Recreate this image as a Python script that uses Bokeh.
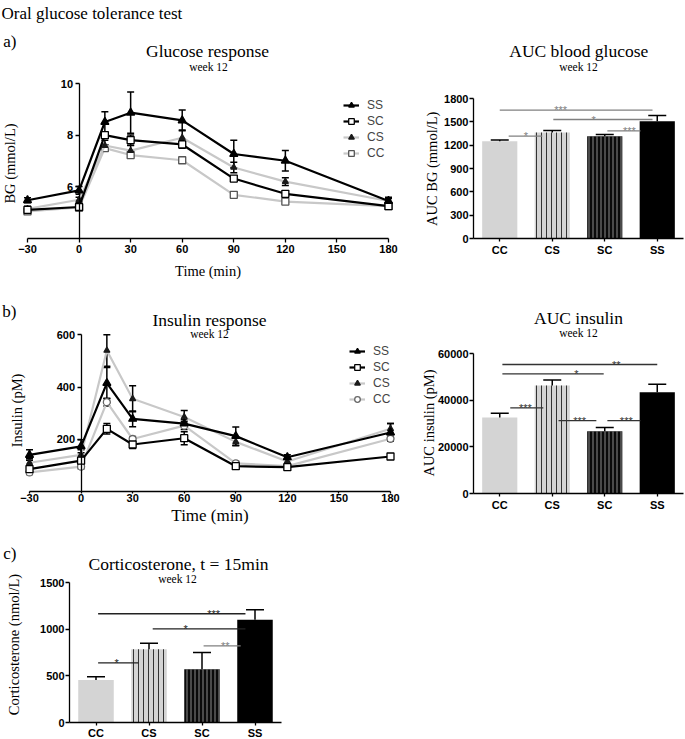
import math
from bokeh.plotting import figure
from bokeh.models import (Range1d, FixedTicker, Label, Whisker, TeeHead,
                          ColumnDataSource, Legend, LegendItem)
from bokeh.layouts import column, row
from bokeh.embed import file_html
from bokeh.resources import INLINE
from bokeh.core.properties import value

SERIF = "Liberation Serif"
SANS = "Liberation Sans"

# ---------------- data ----------------
time_min = [-30, 0, 15, 30, 60, 90, 120, 180]
time_ticks = [-30, 0, 30, 60, 90, 120, 150, 180]
line_groups = ["SS", "SC", "CS", "CC"]

glu_SS = [5.48, 5.86, 8.51, 8.87, 8.57, 7.27, 7.01, 5.45]
glu_SS_err = [0.10, 0.15, 0.40, 0.80, 0.40, 0.53, 0.40, 0.15]
glu_SC = [5.11, 5.22, 8.00, 7.81, 7.64, 6.32, 5.73, 5.25]
glu_SC_err = [0.08, 0.08, 0.10, 0.20, 0.15, 0.10, 0.10, 0.10]
glu_CS = [5.15, 5.50, 7.60, 7.40, 7.90, 6.75, 6.20, 5.45]
glu_CS_err = [0.10, 0.10, 0.20, 0.20, 0.30, 0.20, 0.15, 0.10]
glu_CC = [5.05, 5.20, 7.50, 7.23, 7.03, 5.69, 5.43, 5.25]
glu_CC_err = [0.08, 0.08, 0.08, 0.08, 0.08, 0.08, 0.08, 0.08]

ins_SS = [140, 173, 415, 278, 260, 212, 131, 226]
ins_SS_err = [20, 25, 60, 30, 15, 35, 10, 34]
ins_SC = [86, 118, 240, 180, 204, 97, 93, 134]
ins_SC_err = [10, 10, 20, 15, 25, 8, 8, 10]
ins_CS = [110, 140, 540, 355, 285, 190, 115, 240]
ins_CS_err = [15, 20, 60, 50, 25, 15, 10, 20]
ins_CC = [73, 95, 342, 201, 252, 108, 97, 202]
ins_CC_err = [8, 8, 15, 10, 15, 8, 8, 10]

bar_groups = ["CC", "CS", "SC", "SS"]
auc_bg = [1251, 1363, 1316, 1509]
auc_bg_err = [15, 26, 21, 72]
auc_ins = [32600, 46400, 26700, 43500]
auc_ins_err = [1900, 2400, 1700, 3450]
cort = [455, 786, 571, 1100]
cort_err = [36, 64, 179, 107]

# significance brackets: (x start, x end, height, star x, stars)
sig_bg = [(0.50, 3.41, 1650, 1.66, "***"), (1.52, 3.41, 1530, 2.29, "*"),
          (2.55, 3.18, 1383, 2.97, "***"), (0.67, 1.31, 1315, 1.00, "*")]
sig_ins = [(0.55, 3.50, 55400, 2.72, "**"), (0.55, 2.48, 51400, 1.96, "*"),
           (0.70, 1.33, 36760, 0.99, "***"), (1.62, 2.34, 31300, 2.02, "***"),
           (2.55, 3.18, 31300, 2.91, "***")]
sig_cort = [(0.54, 3.32, 1165, 2.72, "***"), (1.57, 3.32, 1004, 2.19, "*"),
            (2.53, 3.23, 822, 2.94, "**"), (0.54, 1.30, 639, 0.89, "*")]

# ---------------- styles ----------------
glu_styles = {
    "SS": dict(line="black", marker="triangle", size=8, fill="black", edge="black"),
    "SC": dict(line="black", marker="square", size=7, fill="white", edge="black"),
    "CS": dict(line="#c8c8c8", marker="triangle", size=6, fill="#1a1a1a", edge="#1a1a1a"),
    "CC": dict(line="#c8c8c8", marker="square", size=7, fill="white", edge="#555555"),
}
ins_styles = dict(glu_styles)
ins_styles["CC"] = dict(line="#c8c8c8", marker="circle", size=7, fill="white", edge="#666666")

bar_styles = {
    "CC": dict(fill_color="#d4d4d4"),
    "CS": dict(fill_color="#d4d4d4", hatch_pattern="vertical_line", hatch_color="#333333",
               hatch_scale=5, hatch_weight=1),
    "SC": dict(fill_color="#0a0a0a", hatch_pattern="vertical_line", hatch_color="#8a8a8a",
               hatch_scale=4, hatch_weight=1),
    "SS": dict(fill_color="black"),
}

# ---------------- geometry (page pixels) ----------------
# each panel: canvas box and two calibration points per axis (frame fills the canvas)
geoA = dict(left=0, top=0, width=418, height=290, x=(-30, 27, 180, 388), y=(4, 238, 10, 83))
geoB = dict(left=418, top=0, width=267, height=290, x=(0, 473, 4, 683), y=(0, 238, 1800, 98))
geoC = dict(left=0, top=290, width=418, height=240, x=(-30, 29, 180, 390), y=(0, 491, 600, 334.3))
geoD = dict(left=418, top=290, width=267, height=240, x=(0, 473, 4, 683), y=(0, 493, 60000, 353.3))
geoE = dict(left=0, top=530, width=300, height=209, x=(0, 69, 4, 281), y=(0, 722, 1500, 582))


def to_data(geo, px, py):
    v0, p0, v1, p1 = geo["x"]
    w0, q0, w1, q1 = geo["y"]
    return (v0 + (px - p0) * (v1 - v0) / (p1 - p0), w0 + (py - q0) * (w1 - w0) / (q1 - q0))


def ranges(geo):
    x0, y1 = to_data(geo, geo["left"], geo["top"])
    x1, y0 = to_data(geo, geo["left"] + geo["width"], geo["top"] + geo["height"])
    return Range1d(x0, x1), Range1d(y0, y1)


def style_axis(ax, standoff=2, tick_out=4):
    ax.axis_line_width = 1.3
    ax.axis_line_color = "black"
    ax.major_tick_line_width = 1.3
    ax.major_tick_line_color = "black"
    ax.major_tick_out = tick_out
    ax.major_tick_in = 0
    ax.minor_tick_line_color = None
    ax.minor_tick_out = 0
    ax.minor_tick_in = 0
    ax.major_label_text_font = SANS
    ax.major_label_text_font_style = "bold"
    ax.major_label_text_font_size = "11px"
    ax.major_label_text_color = "black"
    ax.major_label_standoff = standoff
    ax.axis_label_text_font = SERIF
    ax.axis_label_text_font_style = "normal"
    ax.axis_label_text_font_size = "14.5px"
    ax.axis_label_text_color = "black"


def base_fig(geo):
    xr, yr = ranges(geo)
    p = figure(width=geo["width"], height=geo["height"], x_range=xr, y_range=yr,
               output_backend="svg", toolbar_location=None,
               min_border_left=0, min_border_right=0, min_border_top=0, min_border_bottom=0)
    p.grid.visible = False
    p.outline_line_color = None
    p.background_fill_color = "white"
    p.border_fill_color = "white"
    return p


def text(p, geo, px, py, txt, size, align="center", angle=0.0, baseline="alphabetic"):
    x, y = to_data(geo, px, py)
    p.add_layout(Label(x=x, y=y, text=txt, text_font=SERIF, text_font_size=size,
                       text_align=align, text_baseline=baseline, angle=angle,
                       text_color="black"))


def line_fig(geo, y_ticks, y_bounds, series, styles, legend_xy, x_std, x_lab_std, x_lab_size):
    p = base_fig(geo)
    xa = p.xaxis[0]
    style_axis(xa, x_std[0], x_std[1])
    xa.fixed_location = y_bounds[0]
    xa.ticker = FixedTicker(ticks=time_ticks)
    xa.bounds = (time_ticks[0], time_ticks[-1])
    xa.axis_label = "Time (min)"
    xa.axis_label_standoff = x_lab_std
    xa.axis_label_text_font_size = x_lab_size
    ya = p.yaxis[0]
    style_axis(ya, 2)
    ya.fixed_location = 0
    ya.ticker = FixedTicker(ticks=y_ticks)
    ya.bounds = y_bounds

    rends = {}
    for name in reversed(line_groups):
        means, errs = series[name]
        st = styles[name]
        lr = p.line(time_min, means, line_color=st["line"], line_width=2.2)
        src = ColumnDataSource(dict(x=time_min,
                                    lo=[m - e for m, e in zip(means, errs)],
                                    hi=[m + e for m, e in zip(means, errs)]))
        p.add_layout(Whisker(source=src, base="x", lower="lo", upper="hi", dimension="height",
                             line_color="black", line_width=1.5,
                             upper_head=TeeHead(size=7, line_color="black", line_width=1.5),
                             lower_head=TeeHead(size=7, line_color="black", line_width=1.5)))
        mr = p.scatter(time_min, means, marker=st["marker"], size=st["size"],
                       fill_color=st["fill"], line_color=st["edge"], line_width=1.3)
        rends[name] = [lr, mr]
    bottom = geo["top"] + geo["height"]
    legend = Legend(items=[LegendItem(label=n, renderers=rends[n]) for n in line_groups],
                    location=(legend_xy[0] - geo["left"], bottom - legend_xy[1]),
                    orientation="vertical",
                    label_text_font=SANS, label_text_font_size="12px",
                    glyph_width=16, glyph_height=14, label_height=14, label_standoff=8,
                    spacing=2, padding=0, margin=0, border_line_color=None,
                    background_fill_alpha=0)
    p.add_layout(legend)
    return p


def bar_fig(geo, y_ticks, vals, errs, sig, sig_colors, x_std):
    p = base_fig(geo)
    pos = [i + 0.5 for i in range(len(bar_groups))]
    xa = p.xaxis[0]
    style_axis(xa, x_std, 3)
    xa.fixed_location = 0
    xa.ticker = FixedTicker(ticks=pos)
    xa.major_label_overrides = {q: g for q, g in zip(pos, bar_groups)}
    xa.bounds = (0, len(bar_groups))
    ya = p.yaxis[0]
    style_axis(ya, 1, 4)
    ya.fixed_location = 0
    ya.ticker = FixedTicker(ticks=y_ticks)
    ya.bounds = (0, y_ticks[-1])
    for q, g, v in zip(pos, bar_groups, vals):
        p.vbar(x=[q], top=[v], width=0.67, line_color=None, **bar_styles[g])
    src = ColumnDataSource(dict(x=pos, top=vals, hi=[v + e for v, e in zip(vals, errs)]))
    p.add_layout(Whisker(source=src, base="x", lower="top", upper="hi", dimension="height",
                         line_color="black", line_width=1.5, level="overlay",
                         upper_head=TeeHead(size=18, line_color="black", line_width=1.5),
                         lower_head=None))
    for (x0, x1, h, tx, stars), c in zip(sig, sig_colors):
        p.segment(x0=[x0], y0=[h], x1=[x1], y1=[h], line_color=c, line_width=1.3)
        p.text(x=[tx], y=[h], text=[stars], text_font=value(SANS), text_font_size="11px",
               text_align="center", text_baseline="alphabetic", text_color=c)
    return p


VERT = math.pi / 2

# ---------------- panel a ----------------
# legend position given as (glyph left, legend bottom) in page pixels
figA = line_fig(geoA, [6, 8, 10], (4, 10),
                {"SS": (glu_SS, glu_SS_err), "SC": (glu_SC, glu_SC_err),
                 "CS": (glu_CS, glu_CS_err), "CC": (glu_CC, glu_CC_err)},
                glu_styles, (343, 160.3), (2, 4), 7, "14.5px")
text(figA, geoA, 1, 13.3, "Oral glucose tolerance test", "17px", align="left")
text(figA, geoA, 2.7, 40.7, "a)", "17px", align="left")
text(figA, geoA, 207, 50.7, "Glucose response", "17.5px")
text(figA, geoA, 208, 66, "week 12", "11.5px")
text(figA, geoA, 9.5, 163, "BG (mmol/L)", "14.5px", angle=VERT, baseline="middle")

figB = bar_fig(geoB, [0, 300, 600, 900, 1200, 1500, 1800], auc_bg, auc_bg_err, sig_bg,
               ["#808080", "#808080", "#808080", "#808080"], 2)
text(figB, geoB, 578.3, 50.7, "AUC blood glucose", "17.5px")
text(figB, geoB, 578, 66, "week 12", "11.5px")
text(figB, geoB, 431.7, 168.3, "AUC BG (mmol/L)", "14.5px", angle=VERT, baseline="middle")

# ---------------- panel b ----------------
figC = line_fig(geoC, [200, 400, 600], (0, 600),
                {"SS": (ins_SS, ins_SS_err), "SC": (ins_SC, ins_SC_err),
                 "CS": (ins_CS, ins_CS_err), "CC": (ins_CC, ins_CC_err)},
                ins_styles, (349, 405.7), (0, 2), 1, "17px")
text(figC, geoC, 1.7, 310.7, "b)", "17px", align="left")
text(figC, geoC, 209, 319.3, "Insulin response", "17.5px")
text(figC, geoC, 209, 333.3, "week 12", "11.5px")
text(figC, geoC, 16.7, 410, "Insulin (pM)", "14.5px", angle=VERT, baseline="middle")

figD = bar_fig(geoD, [0, 20000, 40000, 60000], auc_ins, auc_ins_err, sig_ins,
               ["#333333", "#333333", "#333333", "#333333", "#333333"], 2)
text(figD, geoD, 578, 317.3, "AUC insulin", "17.5px")
text(figD, geoD, 578, 332.7, "week 12", "11.5px")
text(figD, geoD, 428, 422.5, "AUC insulin (pM)", "14.5px", angle=VERT, baseline="middle")

# ---------------- panel c ----------------
figE = bar_fig(geoE, [0, 500, 1000, 1500], cort, cort_err, sig_cort,
               ["#222222", "#222222", "#808080", "#222222"], 1)
text(figE, geoE, 2.7, 553.3, "c)", "17px", align="left")
text(figE, geoE, 178, 563.3, "Corticosterone, t = 15min", "17.5px")
text(figE, geoE, 177, 578.3, "week 12", "11.5px")
text(figE, geoE, 13, 644, "Corticosterone (nmol/L)", "14.5px", angle=VERT, baseline="middle")

layout = column(row(figA, figB), row(figC, figD), figE)

open("out.html", "w").write(file_html(layout, INLINE))
